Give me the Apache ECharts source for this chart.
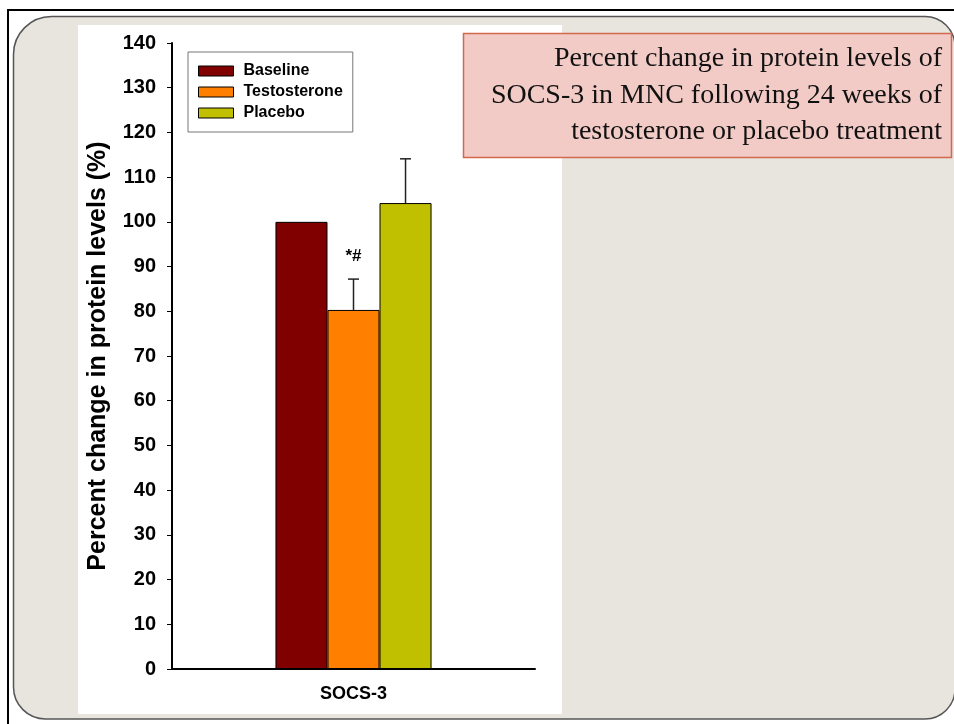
<!DOCTYPE html>
<html>
<head>
<meta charset="utf-8">
<script src="https://cdn.jsdelivr.net/npm/echarts@6/dist/echarts.min.js"></script>
<style>
html,body{margin:0;padding:0;background:#ffffff;}
#chart{width:954px;height:724px;}
</style>
</head>
<body>
<div id="chart"></div>
<script>
// ---- data ----
var categories = ['SOCS-3'];
var groups = ['Baseline', 'Testosterone', 'Placebo'];
var means = [100, 80.3, 104.2];
var errors = [0, 6.9, 9.9];
var annotations = ['', '*#', ''];
var yTicks = {min: 0, max: 140, interval: 10};
var titleLines = ['Percent change in protein levels of', 'SOCS-3 in MNC following 24 weeks of', 'testosterone or placebo treatment'];
var yAxisTitle = 'Percent change in protein levels (%)';

// ---- styles ----
var colors = ['#800000', '#FF8000', '#C0C000'];
var SANS = '"Liberation Sans", Arial, sans-serif';
var SERIF = '"Liberation Serif", "Times New Roman", serif';
var CAT_GAP = 0.57;

var chart = echarts.init(document.getElementById('chart'), null, {renderer: 'canvas'});

var barSeries = groups.map(function (g, i) {
  return {
    name: g,
    type: 'bar',
    data: [means[i]],
    barGap: '0%',
    barCategoryGap: (CAT_GAP * 100) + '%',
    itemStyle: {color: colors[i], borderColor: '#000', borderWidth: 1},
    z: 3
  };
});

var errData = groups.map(function (g, i) { return [0, means[i], errors[i], i]; });

var errSeries = {
  type: 'custom',
  name: 'err',
  data: errData,
  z: 4,
  renderItem: function (params, api) {
    var cat = api.value(0), m = api.value(1), e = api.value(2), gi = api.value(3);
    var band = api.size([1, 0])[0];
    var barW = band * (1 - CAT_GAP) / groups.length;
    var center = api.coord([cat, 0])[0];
    var x = center + (gi - (groups.length - 1) / 2) * barW;
    var p0 = api.coord([cat, m]);
    var p1 = api.coord([cat, m + e]);
    var children = [];
    if (e > 0) {
      children.push({type: 'line', shape: {x1: x, y1: p0[1], x2: x, y2: p1[1]}, style: {stroke: '#222', lineWidth: 1.5}});
      children.push({type: 'line', shape: {x1: x - 5.5, y1: p1[1], x2: x + 5.5, y2: p1[1]}, style: {stroke: '#222', lineWidth: 1.5}});
    }
    var ann = annotations[gi];
    if (ann) {
      children.push({type: 'text', style: {text: ann, x: x, y: p1[1] - 23, textAlign: 'center', textVerticalAlign: 'middle', font: 'bold 17px ' + SANS, fill: '#000'}});
    }
    return {type: 'group', children: children};
  }
};

var titleGraphics = titleLines.map(function (t, i) {
  return {type: 'text', z: 12, style: {text: t, x: 942, y: 59 + i * 36.5, textAlign: 'right', textVerticalAlign: 'middle', font: '28px ' + SERIF, fill: '#111'}};
});

var option = {
  backgroundColor: '#ffffff',
  animation: false,
  graphic: [
    {type: 'rect', z: -10, shape: {x: 7, y: 9, width: 947, height: 2}, style: {fill: '#000'}},
    {type: 'rect', z: -10, shape: {x: 7, y: 9, width: 2, height: 715}, style: {fill: '#000'}},
    {type: 'rect', z: -9, shape: {x: 13.5, y: 16.5, width: 941.5, height: 702.5, r: [38, 30, 30, 32]}, style: {fill: '#E8E4DE', stroke: '#555', lineWidth: 1.5}},
    {type: 'rect', z: -8, shape: {x: 78, y: 25, width: 484, height: 689}, style: {fill: '#ffffff'}},
    {type: 'rect', z: 11, shape: {x: 463.5, y: 33.5, width: 488, height: 124}, style: {fill: '#F2CBC6', stroke: '#D2694D', lineWidth: 1.5}}
  ].concat(titleGraphics),
  legend: {
    data: groups,
    orient: 'vertical',
    left: 188,
    top: 52,
    padding: [11, 10, 11, 10],
    borderColor: '#777',
    borderWidth: 1,
    backgroundColor: '#fff',
    itemWidth: 35,
    itemHeight: 10,
    itemGap: 5,
    icon: 'rect',
    itemStyle: {borderColor: '#000', borderWidth: 1},
    textStyle: {fontFamily: SANS, fontWeight: 'bold', fontSize: 16, color: '#000', lineHeight: 16, padding: [0, 0, 0, 5]}
  },
  grid: {left: 172, right: 419, top: 43, bottom: 55, containLabel: false},
  xAxis: {
    type: 'category',
    data: categories,
    axisLine: {lineStyle: {color: '#000', width: 2}},
    axisTick: {alignWithLabel: true, length: 5, lineStyle: {color: '#000', width: 1}},
    axisLabel: {fontFamily: SANS, fontWeight: 'bold', fontSize: 18, color: '#000', margin: 16}
  },
  yAxis: {
    type: 'value',
    min: yTicks.min,
    max: yTicks.max,
    interval: yTicks.interval,
    name: yAxisTitle,
    nameLocation: 'middle',
    nameGap: 61,
    nameTextStyle: {fontFamily: SANS, fontWeight: 'bold', fontSize: 25, color: '#000'},
    splitLine: {show: false},
    axisLine: {show: true, lineStyle: {color: '#000', width: 2}},
    axisTick: {show: true, length: 5, lineStyle: {color: '#000', width: 1}},
    axisLabel: {fontFamily: SANS, fontWeight: 'bold', fontSize: 20, color: '#000', margin: 16}
  },
  series: barSeries.concat([errSeries])
};

chart.setOption(option);
</script>
</body>
</html>
